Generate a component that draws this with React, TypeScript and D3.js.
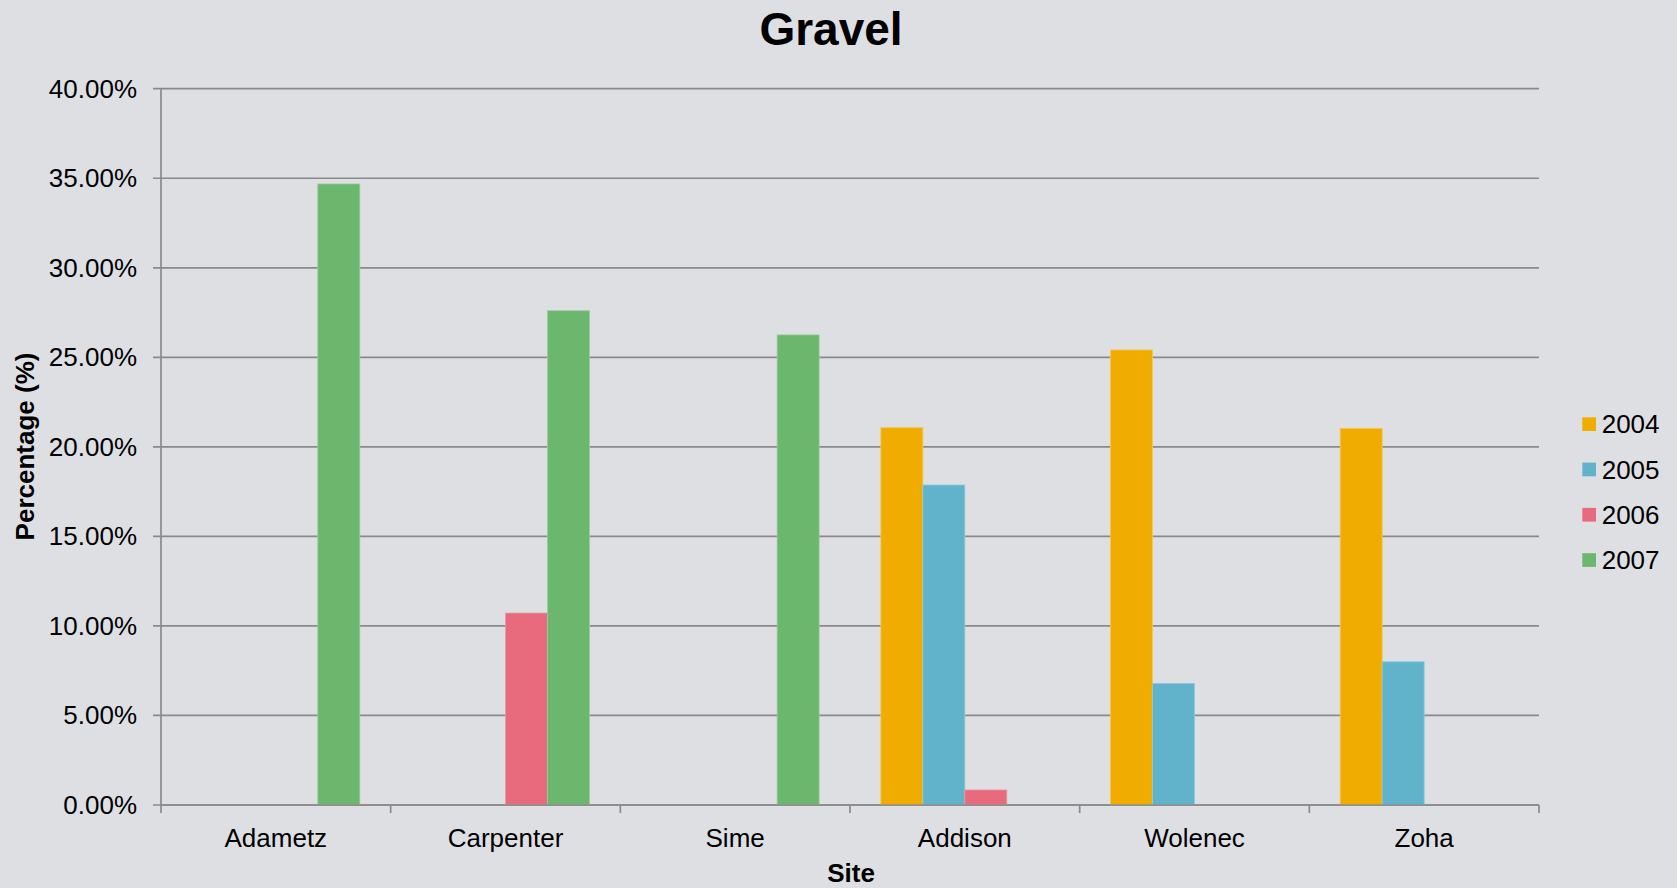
import React from "react";
import * as d3 from "d3";

const sites = ["Adametz", "Carpenter", "Sime", "Addison", "Wolenec", "Zoha"];
const years = ["2004", "2005", "2006", "2007"];
const v2004 = [0, 0, 0, 21.07, 25.41, 21.03];
const v2005 = [0, 0, 0, 17.87, 6.79, 8.0];
const v2006 = [0, 10.72, 0, 0.84, 0, 0];
const v2007 = [34.68, 27.6, 26.25, 0, 0, 0];
const yTicks = [0, 5, 10, 15, 20, 25, 30, 35, 40];
const colors = ["#F0AD00", "#61B3CC", "#E76B7D", "#6CB76E"];
const strokes = ["#F5C850", "#8ECBDC", "#EE97A3", "#97CC98"];

const W = 1677;
const H = 888;
const FONT = "'Liberation Sans', Arial, Helvetica, sans-serif";

export default function App() {
  const series = [v2004, v2005, v2006, v2007];
  const left = 161;
  const right = 1539;
  const top = 88.7;
  const bottom = 805;
  const y = d3.scaleLinear().domain([0, 40]).range([bottom, top]);
  const x0 = d3.scaleBand<string>().domain(sites).range([left, right]).padding(0);
  const bw = x0.bandwidth();
  const barW = bw * 0.1828;
  const off = (bw - barW * years.length) / 2;
  const x1 = d3
    .scaleBand<string>()
    .domain(years)
    .range([off, off + barW * years.length])
    .padding(0);
  const gridColor = "#8A8A8A";

  return (
    <div style={{ position: "fixed", left: 0, top: 0 }}>
      <svg width={W} height={H} style={{ display: "block", fontFamily: FONT }}>
        <rect x={0} y={0} width={W} height={H} fill="#DEDFE3" />
        <text x={831} y={45} textAnchor="middle" fontSize={46} fontWeight="bold" fill="#000">
          Gravel
        </text>
        {yTicks.map((t) => (
          <g key={t}>
            <line x1={left - 8} x2={right} y1={y(t)} y2={y(t)} stroke={gridColor} strokeWidth={1.7} />
            <text x={137} y={y(t)} dy="0.34em" textAnchor="end" fontSize={26} fill="#000">
              {d3.format(".2f")(t)}%
            </text>
          </g>
        ))}
        {series.map((vals, si) =>
          sites.map((s, ci) =>
            vals[ci] > 0 ? (
              <rect
                key={`${si}-${ci}`}
                x={(x0(s) as number) + (x1(years[si]) as number)}
                y={y(vals[ci])}
                width={barW}
                height={bottom - y(vals[ci])}
                fill={colors[si]}
                stroke={strokes[si]}
                strokeWidth={0.8}
              />
            ) : null
          )
        )}
        <line x1={left} x2={left} y1={top} y2={bottom + 8} stroke={gridColor} strokeWidth={1.7} />
        <line x1={left} x2={right} y1={bottom} y2={bottom} stroke={gridColor} strokeWidth={1.7} />
        {sites.map((s, i) => (
          <line
            key={`tk${i}`}
            x1={(x0(s) as number) + bw}
            x2={(x0(s) as number) + bw}
            y1={bottom}
            y2={bottom + 8}
            stroke={gridColor}
            strokeWidth={1.7}
          />
        ))}
        {sites.map((s) => (
          <text key={s} x={(x0(s) as number) + bw / 2} y={847} textAnchor="middle" fontSize={26} fill="#000">
            {s}
          </text>
        ))}
        <text x={851} y={882} textAnchor="middle" fontSize={26} fontWeight="bold" fill="#000">
          Site
        </text>
        <text
          transform={`translate(34,446.5) rotate(-90)`}
          textAnchor="middle"
          fontSize={26}
          fontWeight="bold"
          fill="#000"
        >
          Percentage (%)
        </text>
        {years.map((yr, i) => (
          <g key={yr} transform={`translate(1582.3,${417.3 + i * 45.3})`}>
            <rect x={0} y={0} width={13.7} height={13.7} fill={colors[i]} />
            <text x={19.4} y={16} fontSize={26} fill="#000">
              {yr}
            </text>
          </g>
        ))}
      </svg>
    </div>
  );
}
